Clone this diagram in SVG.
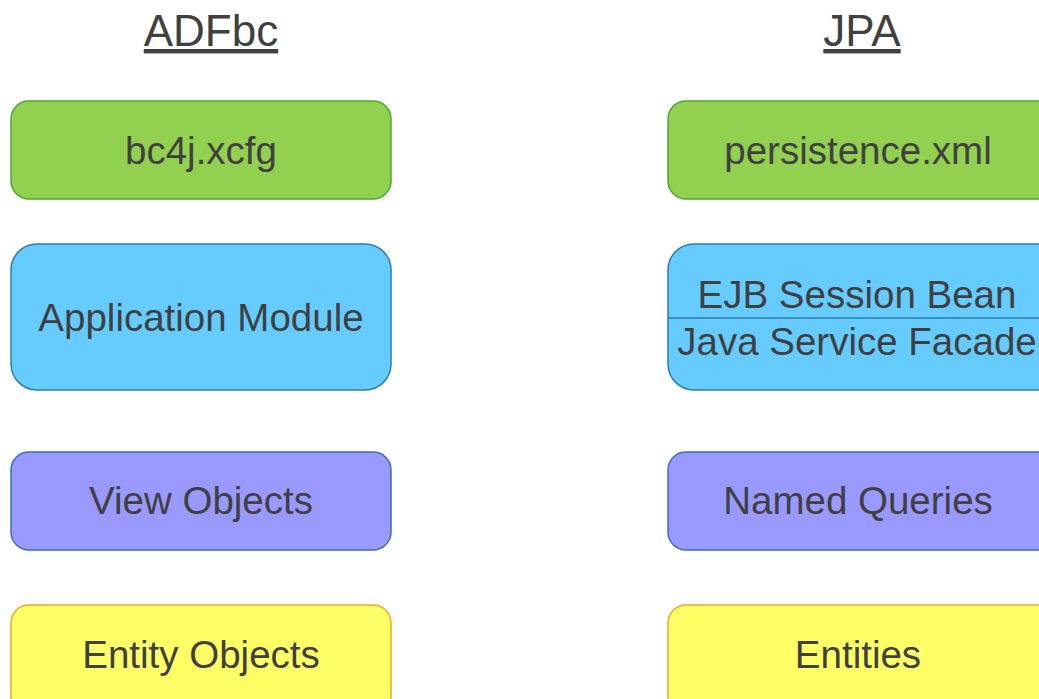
<svg xmlns="http://www.w3.org/2000/svg" width="1039" height="699" viewBox="0 0 1039 699">
<style>
text{font-family:"Liberation Sans",Arial,sans-serif;fill:#404040;text-anchor:middle}
.t{font-size:44px;text-decoration:underline}
.l{font-size:38.5px}
.g{fill:#92D050;stroke:#4EA72E;stroke-width:1.5}
.b{fill:#66CCFF;stroke:#2E7DA8;stroke-width:1.5}
.p{fill:#9999FF;stroke:#3A6FB0;stroke-width:1.5}
.y{fill:#FFFF66;stroke:#F5A623;stroke-width:1.5}
</style>
<rect width="1039" height="699" fill="#fff"/>
<g id="title-adfbc"><text class="t" x="211" y="46">ADFbc</text></g>
<g id="title-jpa"><text class="t" x="862" y="46">JPA</text></g>
<g id="n-bc4j"><rect class="g" x="11" y="101" width="380" height="98" rx="18"/><text class="l" x="201" y="164">bc4j.xcfg</text></g>
<g id="n-persistence"><rect class="g" x="668" y="101" width="390" height="98" rx="18"/><text class="l" x="858" y="164">persistence.xml</text></g>
<g id="n-appmodule"><rect class="b" x="11" y="244" width="380" height="146" rx="26"/><text class="l" x="201" y="331">Application Module</text></g>
<g id="n-ejb"><rect class="b" x="668" y="244" width="400" height="146" rx="26"/><line x1="668" y1="318" x2="1039" y2="318" stroke="#2E7DA8" stroke-width="1.5"/><text class="l" x="857" y="308">EJB Session Bean</text><text class="l" x="857" y="355">Java Service Facade</text></g>
<g id="n-viewobjects"><rect class="p" x="11" y="452" width="380" height="98" rx="18"/><text class="l" x="201" y="514">View Objects</text></g>
<g id="n-namedqueries"><rect class="p" x="668" y="452" width="390" height="98" rx="18"/><text class="l" x="858" y="514">Named Queries</text></g>
<g id="n-entityobjects"><rect class="y" x="11" y="605" width="380" height="110" rx="18"/><text class="l" x="201" y="668">Entity Objects</text></g>
<g id="n-entities"><rect class="y" x="668" y="605" width="390" height="110" rx="18"/><text class="l" x="858" y="668">Entities</text></g>
<g id="connectors"/>
</svg>
